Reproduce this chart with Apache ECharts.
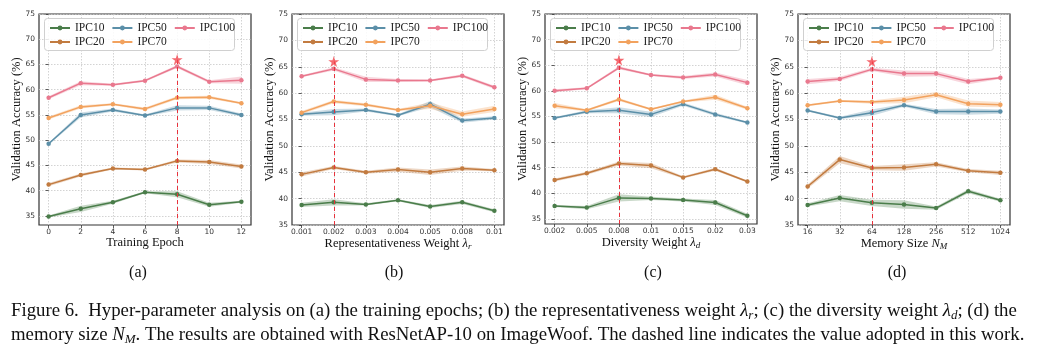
<!DOCTYPE html>
<html>
<head>
<meta charset="utf-8">
<script src="https://cdn.jsdelivr.net/npm/echarts@6/dist/echarts.min.js"></script>
<style>
html,body{margin:0;padding:0;background:#fff;}
#chart{width:1046px;height:352px;}
</style>
</head>
<body>
<div id="chart"></div>
<script>
// ---------------- DATA ----------------
const seriesNames = ['IPC10', 'IPC20', 'IPC50', 'IPC70', 'IPC100'];
const yTicks = [35, 40, 45, 50, 55, 60, 65, 70, 75];

// (a) Training epoch
const xA = [0, 2, 4, 6, 8, 10, 12];
const a10 = [34.9, 36.4, 37.7, 39.7, 39.3, 37.2, 37.8];
const a20 = [41.2, 43.1, 44.4, 44.2, 45.9, 45.7, 44.8];
const a50 = [49.3, 55.0, 56.0, 54.9, 56.4, 56.4, 55.0];
const a70 = [54.4, 56.6, 57.1, 56.2, 58.4, 58.5, 57.3];
const a100 = [58.4, 61.3, 61.0, 61.8, 64.6, 61.6, 61.9];
const a10Err = [0.2, 0.6, 0.3, 0.2, 0.6, 0.4, 0.2];
const a20Err = [0.3, 0.3, 0.2, 0.2, 0.3, 0.4, 0.4];
const a50Err = [0.2, 0.5, 0.3, 0.2, 0.5, 0.4, 0.3];
const a70Err = [0.3, 0.3, 0.2, 0.3, 0.3, 0.3, 0.2];
const a100Err = [0.3, 0.4, 0.2, 0.2, 0.3, 0.3, 0.7];

// (b) Representativeness weight
const xLabelsB = ['0.001', '0.002', '0.003', '0.004', '0.005', '0.008', '0.01'];
const b10 = [38.8, 39.3, 38.9, 39.7, 38.5, 39.3, 37.7];
const b20 = [44.6, 45.9, 45.0, 45.5, 45.0, 45.7, 45.4];
const b50 = [56.0, 56.4, 56.8, 55.8, 57.9, 54.8, 55.3];
const b70 = [56.3, 58.4, 57.8, 56.8, 57.6, 56.0, 57.0];
const b100 = [63.2, 64.6, 62.6, 62.4, 62.4, 63.3, 61.1];
const b10Err = [0.4, 0.6, 0.2, 0.2, 0.3, 0.3, 0.3];
const b20Err = [0.4, 0.3, 0.3, 0.4, 0.5, 0.4, 0.2];
const b50Err = [0.3, 0.6, 0.3, 0.2, 0.6, 0.4, 0.3];
const b70Err = [0.3, 0.3, 0.3, 0.2, 0.6, 0.5, 0.6];
const b100Err = [0.2, 0.3, 0.5, 0.3, 0.2, 0.3, 0.3];

// (c) Diversity weight
const xLabelsC = ['0.002', '0.005', '0.008', '0.01', '0.015', '0.02', '0.03'];
const c10 = [37.5, 37.2, 39.1, 39.0, 38.7, 38.2, 35.6];
const c20 = [42.6, 43.9, 45.8, 45.4, 43.1, 44.7, 42.3];
const c50 = [54.7, 55.9, 56.2, 55.4, 57.4, 55.4, 53.8];
const c70 = [57.1, 56.2, 58.3, 56.4, 57.9, 58.75, 56.6];
const c100 = [60.0, 60.5, 64.5, 63.1, 62.6, 63.2, 61.6];
const c10Err = [0.2, 0.3, 0.7, 0.3, 0.3, 0.5, 0.4];
const c20Err = [0.3, 0.3, 0.4, 0.5, 0.2, 0.3, 0.2];
const c50Err = [0.2, 0.3, 0.6, 0.5, 0.3, 0.3, 0.2];
const c70Err = [0.5, 0.2, 0.3, 0.2, 0.2, 0.5, 0.3];
const c100Err = [0.3, 0.2, 0.3, 0.2, 0.3, 0.4, 0.5];

// (d) Memory size
const xLabelsD = ['16', '32', '64', '128', '256', '512', '1024'];
const d10 = [38.8, 40.1, 39.2, 38.9, 38.2, 41.4, 39.7];
const d20 = [42.3, 47.4, 45.8, 45.9, 46.5, 45.3, 44.9];
const d50 = [56.7, 55.3, 56.3, 57.7, 56.5, 56.5, 56.5];
const d70 = [57.7, 58.5, 58.3, 58.7, 59.7, 58.0, 57.8];
const d100 = [62.2, 62.7, 64.5, 63.7, 63.7, 62.2, 62.9];
const d10Err = [0.3, 0.6, 0.6, 0.8, 0.3, 0.4, 0.3];
const d20Err = [0.4, 0.7, 0.4, 0.6, 0.4, 0.3, 0.4];
const d50Err = [0.2, 0.2, 0.6, 0.3, 0.5, 0.6, 0.4];
const d70Err = [0.2, 0.2, 0.3, 0.6, 0.5, 0.6, 0.5];
const d100Err = [0.5, 0.4, 0.3, 0.6, 0.5, 0.5, 0.2];

// adopted value (x position of dashed line) and star height
const chosenX = [8, 1, 2, 2];
const starY = [66, 66, 66, 66];

// ---------------- STYLE / LAYOUT ----------------
const colors = ['#4a7d4a', '#c27b40', '#5b8fa8', '#f2a25e', '#e9788e'];
const serif = 'Liberation Serif';
const sans = 'DejaVu Sans';
const gridLefts = [39, 292, 545, 798];
const gridW = 212;
const gridTop = 14;
const gridHeights = [211, 211, 210, 211];
const yMins = [33.2, 35, 34.0, 35];
const xNames = [
  '{t|Training Epoch}',
  '{t|Representativeness Weight }{m|λ}{s|r}',
  '{t|Diversity Weight }{m|λ}{s|d}',
  '{t|Memory Size }{m|N}{s|M}'
];

const panelData = [
  { vals: [a10, a20, a50, a70, a100], errs: [a10Err, a20Err, a50Err, a70Err, a100Err], x: xA, xMin: -0.6, xMax: 12.6, fmt: v => String(v) },
  { vals: [b10, b20, b50, b70, b100], errs: [b10Err, b20Err, b50Err, b70Err, b100Err], x: xLabelsB.map((_, i) => i), xMin: -0.3, xMax: 6.3, fmt: v => xLabelsB[Math.round(v)] },
  { vals: [c10, c20, c50, c70, c100], errs: [c10Err, c20Err, c50Err, c70Err, c100Err], x: xLabelsC.map((_, i) => i), xMin: -0.3, xMax: 6.3, fmt: v => xLabelsC[Math.round(v)] },
  { vals: [d10, d20, d50, d70, d100], errs: [d10Err, d20Err, d50Err, d70Err, d100Err], x: xLabelsD.map((_, i) => i), xMin: -0.3, xMax: 6.3, fmt: v => xLabelsD[Math.round(v)] }
];

const starPath = 'path://M50,0 L61,35 L98,35 L68,57 L79,91 L50,70 L21,91 L32,57 L2,35 L39,35 Z';

function bandRenderer(color) {
  return function (params, api) {
    if (params.dataIndexInside !== 0) return null;
    const n = params.dataInsideLength;
    const upper = [], lower = [];
    for (let i = 0; i < n; i++) {
      const x = api.value(0, i);
      upper.push(api.coord([x, api.value(2, i)]));
      lower.push(api.coord([x, api.value(1, i)]));
    }
    const pts = upper.concat(lower.reverse());
    return {
      type: 'polygon',
      shape: { points: pts },
      style: { fill: color, opacity: 0.3 },
      silent: true
    };
  };
}

const grids = [], xAxes = [], yAxes = [], series = [], legends = [], graphics = [];

panelData.forEach((p, k) => {
  grids.push({
    left: gridLefts[k], top: gridTop, width: gridW, height: gridHeights[k],
    show: true, borderColor: '#333', borderWidth: 1.2, backgroundColor: 'transparent'
  });
  xAxes.push({
    type: 'value', gridIndex: k, min: p.xMin, max: p.xMax,
    name: xNames[k], nameLocation: 'middle', nameGap: 11, nameMoveOverlap: false,
    nameTextStyle: {
      rich: {
        t: { fontFamily: serif, fontSize: 12.5, color: '#111' },
        m: { fontFamily: serif, fontSize: 12.5, fontStyle: 'italic', color: '#111' },
        s: { fontFamily: serif, fontSize: 9, fontStyle: 'italic', color: '#111', padding: [6, 0, 0, 0] }
      }
    },
    axisLine: { show: false },
    axisTick: { show: true, length: 3, customValues: p.x, lineStyle: { color: '#333', width: 0.8 } },
    axisLabel: { customValues: p.x, formatter: p.fmt, fontFamily: sans, fontSize: 7.5, color: '#333', margin: 3 },
    splitLine: { show: true, lineStyle: { color: '#c8c8c8', type: [1.5, 1.5], width: 0.8 } }
  });
  yAxes.push({
    type: 'value', gridIndex: k, min: yMins[k], max: 75,
    name: 'Validation Accuracy (%)', nameLocation: 'middle', nameGap: 16, nameMoveOverlap: false,
    nameTextStyle: { fontFamily: serif, fontSize: 12.5, color: '#111' },
    axisLine: { show: false },
    axisTick: { show: true, length: 3, customValues: yTicks, lineStyle: { color: '#333', width: 0.8 } },
    axisLabel: { customValues: yTicks, fontFamily: sans, fontSize: 7.5, color: '#333', margin: 4 },
    splitLine: { show: true, lineStyle: { color: '#c8c8c8', type: [1.5, 1.5], width: 0.8 } }
  });

  seriesNames.forEach((nm, j) => {
    const vals = p.vals[j], errs = p.errs[j];
    series.push({
      name: nm + '_band_' + k, type: 'custom', xAxisIndex: k, yAxisIndex: k,
      renderItem: bandRenderer(colors[j]), silent: true, z: 1, clip: true,
      encode: { x: 0, y: [1, 2] },
      data: p.x.map((x, i) => [x, vals[i] - errs[i], vals[i] + errs[i]])
    });
    series.push({
      name: nm, type: 'line', xAxisIndex: k, yAxisIndex: k,
      symbol: 'circle', symbolSize: 4.5, showSymbol: true,
      itemStyle: { color: colors[j] },
      lineStyle: { color: colors[j], width: 1.5 }, z: 3,
      data: p.x.map((x, i) => [x, vals[i]])
    });
  });

  series.push({
    name: 'star_' + k, type: 'scatter', xAxisIndex: k, yAxisIndex: k,
    symbol: starPath, symbolSize: 11, itemStyle: { color: '#f2444c' }, z: 5, silent: true,
    data: [[chosenX[k], starY[k]]],
    markLine: {
      silent: true, symbol: 'none', label: { show: false },
      lineStyle: { color: '#e8323c', type: [4, 3], width: 1 },
      data: [[{ coord: [chosenX[k], yMins[k]] }, { coord: [chosenX[k], starY[k]] }]]
    }
  });

  // legend box
  graphics.push({
    type: 'rect', left: gridLefts[k] + 5, top: 18, z: 50,
    shape: { width: 190, height: 32, r: 3 },
    style: { fill: 'rgba(255,255,255,0.85)', stroke: '#d0d0d0', lineWidth: 1 }
  });
  const legendCommon = {
    orient: 'horizontal', itemWidth: 20, itemHeight: 6, itemGap: 7, padding: 0,
    textStyle: { fontFamily: serif, fontSize: 11.5, color: '#222', width: 28 },
    z: 60, selectedMode: false
  };
  legends.push(Object.assign({}, legendCommon, {
    left: gridLefts[k] + 10, top: 22, data: ['IPC10', 'IPC50', 'IPC100']
  }));
  legends.push(Object.assign({}, legendCommon, {
    left: gridLefts[k] + 10, top: 36, data: ['IPC20', 'IPC70']
  }));
});

const subLabels = ['(a)', '(b)', '(c)', '(d)'];
const subCenters = [133, 389, 648, 892];
const titles = subLabels.map((t, i) => ({
  text: t, left: subCenters[i], top: 260, textAlign: 'center',
  textStyle: { fontFamily: serif, fontSize: 16, fontWeight: 'normal', color: '#111' }
}));
const capRich = {
  n: { fontFamily: serif, fontSize: 18.8, fontWeight: 'normal', color: '#111' },
  m: { fontFamily: serif, fontSize: 18.8, fontWeight: 'normal', fontStyle: 'italic', color: '#111' },
  s: { fontFamily: serif, fontSize: 13, fontWeight: 'normal', fontStyle: 'italic', color: '#111', padding: [9, 0, 0, 0] }
};
titles.push({
  text: '{n|Figure 6.  Hyper-parameter analysis on (a) the training epochs; (b) the representativeness weight }{m|λ}{s|r}{n|; (c) the diversity weight }{m|λ}{s|d}{n|; (d) the}',
  left: 6, top: 295, textStyle: { fontWeight: 'normal', rich: capRich }
});
titles.push({
  text: '{n|memory size }{m|N}{s|M}{n|. The results are obtained with ResNetAP-10 on ImageWoof. The dashed line indicates the value adopted in this work.}',
  left: 6, top: 319, textStyle: { fontWeight: 'normal', rich: capRich }
});

const chart = echarts.init(document.getElementById('chart'), null, { renderer: 'canvas' });
chart.setOption({
  animation: false,
  backgroundColor: '#fff',
  title: titles,
  grid: grids,
  xAxis: xAxes,
  yAxis: yAxes,
  legend: legends,
  graphic: graphics,
  series: series
});
</script>
</body>
</html>
